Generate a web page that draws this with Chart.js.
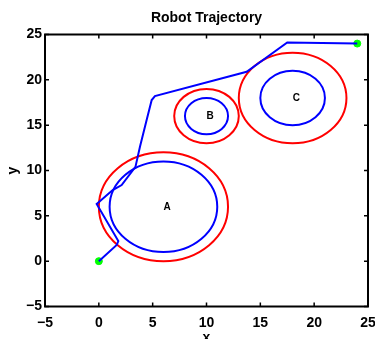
<!DOCTYPE html>
<html>
<head>
<meta charset="utf-8">
<title>Robot Trajectory</title>
<script src="https://cdn.jsdelivr.net/npm/chart.js@4/dist/chart.umd.min.js"></script>
<style>
  html, body { margin: 0; padding: 0; background: #fff; }
  #wrap { width: 375px; height: 339px; }
</style>
</head>
<body>
<div id="wrap"><canvas id="chart" width="375" height="339"></canvas></div>
<script>
// ── data ──
const obstacleNames = ["A", "B", "C"];
const obstacleX     = [6, 10, 18];
const obstacleY     = [6, 16, 18];
const innerRadius   = [5, 2, 3];   // blue rings
const outerRadius   = [6, 3, 5];   // red rings

const pathX = [0, 1.66, 1.81, -0.2, 1.29, 2.12, 3.4, 3.82, 4.44, 4.91, 5.21, 13.73, 17.5, 24];
const pathY = [0, 1.78, 2.22, 6.3, 7.84, 8.4, 10.4, 12.62, 15.56, 17.77, 18.21, 20.89, 24.13, 24];

const endX = [0, 24];
const endY = [0, 24];

const axisMin = -5;
const axisMax = 25;
const axisStep = 5;

// ── helpers ──
const toPoints = (xs, ys) => xs.map((x, i) => ({ x, y: ys[i] }));
const minusLabel = v => (v < 0 ? "\u2212" + Math.abs(v) : String(v));
const boldFont = size => ({ family: "'Liberation Sans', Arial, Helvetica, sans-serif", size, weight: "bold" });

// obstacles, frame box and inner tick marks (MATLAB style)
const framePlugin = {
  id: "frame",
  beforeDatasetsDraw(chart) {
    const { ctx, scales: { x, y }, chartArea } = chart;
    ctx.save();
    ctx.beginPath();
    ctx.rect(chartArea.left, chartArea.top, chartArea.right - chartArea.left, chartArea.bottom - chartArea.top);
    ctx.clip();
    ctx.lineWidth = 2;
    obstacleNames.forEach((name, i) => {
      const cx = x.getPixelForValue(obstacleX[i]);
      const cy = y.getPixelForValue(obstacleY[i]);
      [[outerRadius[i], "#ff0000"], [innerRadius[i], "#0000ff"]].forEach(([r, color]) => {
        const rx = Math.abs(x.getPixelForValue(obstacleX[i] + r) - cx);
        const ry = Math.abs(y.getPixelForValue(obstacleY[i] + r) - cy);
        ctx.beginPath();
        ctx.ellipse(cx, cy, rx, ry, 0, 0, Math.PI * 2);
        ctx.strokeStyle = color;
        ctx.stroke();
      });
      ctx.fillStyle = "#000";
      ctx.font = "bold 10px 'Liberation Sans', Arial, sans-serif";
      ctx.textAlign = "left";
      ctx.textBaseline = "middle";
      ctx.fillText(name, cx, cy);
    });
    ctx.restore();
  },
  afterDraw(chart) {
    const { ctx, scales: { x, y }, chartArea: a } = chart;
    const len = 4;
    ctx.save();
    ctx.strokeStyle = "#000";
    ctx.lineWidth = 1.5;
    ctx.beginPath();
    x.ticks.forEach(t => {
      const px = x.getPixelForValue(t.value);
      ctx.moveTo(px, a.bottom); ctx.lineTo(px, a.bottom - len);
      ctx.moveTo(px, a.top);    ctx.lineTo(px, a.top + len);
    });
    y.ticks.forEach(t => {
      const py = y.getPixelForValue(t.value);
      ctx.moveTo(a.left, py);  ctx.lineTo(a.left + len, py);
      ctx.moveTo(a.right, py); ctx.lineTo(a.right - len, py);
    });
    ctx.stroke();
    ctx.lineWidth = 2;
    ctx.strokeRect(a.left, a.top, a.right - a.left, a.bottom - a.top);
    ctx.restore();
  }
};

new Chart(document.getElementById("chart"), {
  type: "scatter",
  data: {
    datasets: [
      {
        label: "trajectory",
        data: toPoints(pathX, pathY),
        showLine: true,
        borderColor: "#0000ff",
        borderWidth: 2,
        pointRadius: 0,
        tension: 0
      },
      {
        label: "start / goal",
        data: toPoints(endX, endY),
        showLine: false,
        pointRadius: 3.5,
        backgroundColor: "#00ff00",
        borderColor: "#00ff00",
        clip: false
      }
    ]
  },
  options: {
    responsive: false,
    animation: false,
    devicePixelRatio: 1,
    layout: { padding: 0 },
    plugins: {
      legend: { display: false },
      tooltip: { enabled: false },
      title: {
        display: true,
        text: "Robot Trajectory",
        fullSize: false,
        color: "#000",
        font: boldFont(14),
        padding: { top: 9.6, bottom: 8.1 }
      }
    },
    scales: {
      x: {
        type: "linear",
        min: axisMin,
        max: axisMax,
        grid: { display: false, drawTicks: false },
        border: { display: false },
        ticks: { stepSize: axisStep, color: "#000", font: boldFont(14), padding: 8, callback: minusLabel },
        title: { display: true, text: "x", color: "#000", font: boldFont(14), padding: { top: 0, bottom: -8 } },
        afterFit(s) { s.height = 32.5; s.paddingRight = 7; s.paddingLeft = 0; }
      },
      y: {
        type: "linear",
        min: axisMin,
        max: axisMax,
        grid: { display: false, drawTicks: false },
        border: { display: false },
        ticks: { stepSize: axisStep, color: "#000", font: boldFont(14), padding: 3, callback: minusLabel },
        title: { display: true, text: "y", color: "#000", font: boldFont(14), padding: { top: 4.6, bottom: 0 } },
        afterFit(s) { s.width = 45; }
      }
    }
  },
  plugins: [framePlugin]
});
</script>
</body>
</html>
